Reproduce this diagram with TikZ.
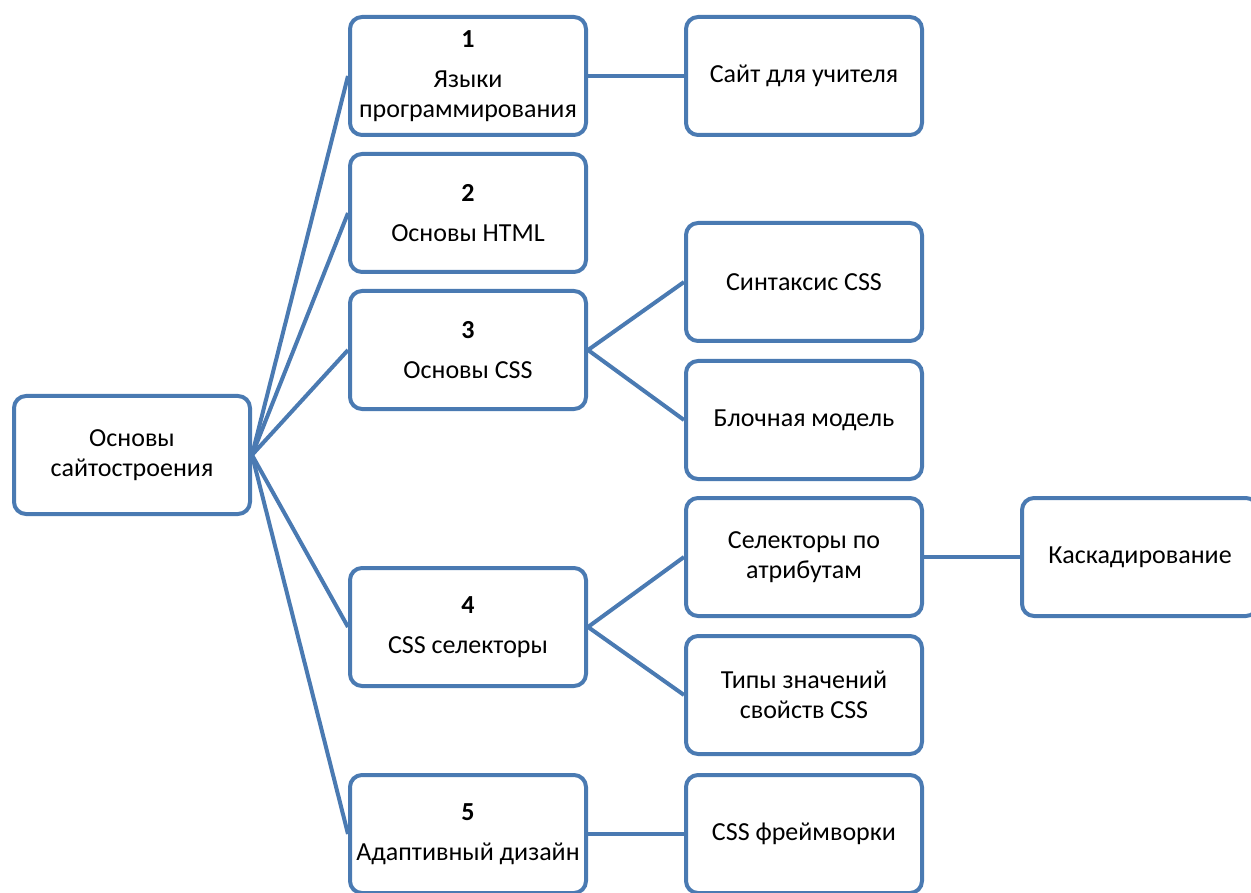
\documentclass[tikz,border=0pt]{standalone}
\usepackage{fontspec}
\setmainfont{Carlito}
\definecolor{boxblue}{RGB}{74,122,178}
\tikzset{
  box/.style={draw=boxblue, fill=white, line width=4pt, rounded corners=12pt,
    minimum width=236pt, minimum height=118pt, align=center, inner sep=2pt,
    font=\fontsize{26pt}{30pt}\selectfont},
  link/.style={draw=boxblue, line width=4pt}
}
\newcommand{\numhead}[1]{\textbf{#1}\\[10pt]}
\begin{document}
\begin{tikzpicture}[x=1pt,y=-1pt]
\useasboundingbox (0,0) rectangle (1251,893);
\clip (0,0) rectangle (1251,893);
\node[box] (root) at (132,455) {Основы\\сайтостроения};
\node[box] (b1) at (468,76) {\numhead{1}Языки\\программирования};
\node[box] (b2) at (468,213) {\numhead{2}Основы HTML};
\node[box] (b3) at (468,350) {\numhead{3}Основы CSS};
\node[box] (b4) at (468,627) {\numhead{4}CSS селекторы};
\node[box] (b5) at (468,834) {\numhead{5}Адаптивный дизайн};
\node[box] (c1) at (804,76) {Сайт для учителя};
\node[box] (c2) at (804,282) {Синтаксис CSS};
\node[box] (c3) at (804,420) {Блочная модель};
\node[box] (c4) at (804,557) {Селекторы по\\атрибутам};
\node[box] (c5) at (804,695) {Типы значений\\свойств CSS};
\node[box] (c6) at (804,834) {CSS фреймворки};
\node[box] (d1) at (1140,557) {Каскадирование};
\foreach \t in {b1,b2,b3,b4,b5} \draw[link] (root.east) -- (\t.west);
\draw[link] (b1.east) -- (c1.west);
\draw[link] (b3.east) -- (c2.west);
\draw[link] (b3.east) -- (c3.west);
\draw[link] (b4.east) -- (c4.west);
\draw[link] (b4.east) -- (c5.west);
\draw[link] (b5.east) -- (c6.west);
\draw[link] (c4.east) -- (d1.west);
\end{tikzpicture}
\end{document}
